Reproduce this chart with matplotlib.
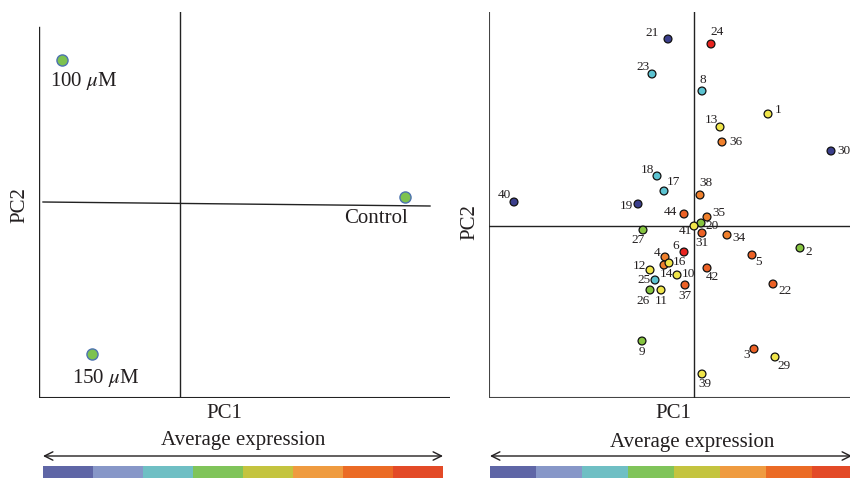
import matplotlib
matplotlib.use("Agg")
import matplotlib.pyplot as plt

plt.rcParams["font.family"] = ["Liberation Serif", "DejaVu Serif"]
plt.rcParams["mathtext.fontset"] = "stix"

TXT = "#231f20"
LINE = "#222222"

# left panel: treatment groups (PC1, PC2), label offsets in pixels
grp_names = ["100 $\\mu$M", "150 $\\mu$M", "Control"]
grp_pc1 = [-11.8, -8.8, 22.5]
grp_pc2 = [14.4, -15.0, 0.7]
grp_off = [(22, -21), (14, -24), (-29, -22)]

# right panel: genes
gene_ids = ["1", "2", "3", "4", "5", "6", "8", "9", "10", "11", "12", "13", "14",
            "16", "17", "18", "19", "20", "21", "22", "23", "24", "25", "26", "27",
            "29", "30", "31", "34", "35", "36", "37", "38", "39", "40", "41", "42", "44"]
gene_pc1 = [7.4, 10.6, 6.0, -2.9, 5.8, -1.0, 0.8, -5.2, -1.7, -3.3, -4.4, 2.6, -3.0,
            -2.5, -3.0, -3.7, -5.6, 0.7, -2.6, 7.9, -4.2, 1.7, -3.9, -4.4, -5.1,
            8.1, 13.7, 0.8, 3.3, 1.3, 2.8, -0.9, 0.6, 0.8, -18.0, 0.0, 1.3, -1.0]
gene_pc2 = [11.2, -2.2, -12.3, -3.1, -2.9, -2.6, 13.5, -11.5, -4.9, -6.4, -4.4, 9.9, -3.9,
            -3.7, 3.5, 5.0, 2.2, 0.3, 18.7, -5.8, 15.2, 18.2, -5.4, -6.4, -0.4,
            -13.1, 7.5, -0.7, -0.9, 0.9, 8.4, -5.9, 3.1, -14.8, 2.4, 0.0, -4.2, 1.2]
gene_cls = ["yellow", "green", "orange2", "orange", "orange2", "red", "cyan", "green",
            "yellow", "yellow", "yellow", "yellow", "orange", "yellow", "cyan", "cyan",
            "navy", "green", "navy", "orange2", "cyan", "red", "cyan", "green", "green",
            "yellow", "navy", "orange2", "orange", "orange", "orange", "orange2",
            "orange", "yellow", "navy", "yellow", "orange2", "orange2"]
gene_off = [(10, 4), (9, -4), (-7, -6), (-8, 4), (7, -7), (-8, 6), (1, 11), (0, -11),
            (11, 1), (0, -11), (-11, 4), (-9, 7), (2, -9), (10, 1), (9, 9), (-10, 6),
            (-12, -2), (11, -3), (-16, 6), (12, -7), (-9, 7), (6, 12), (-11, 0),
            (-7, -11), (-5, -10), (9, -9), (13, 0), (0, -10), (12, -3), (12, 4), (14, 0),
            (0, -11), (6, 12), (3, -10), (-10, 7), (-9, -5), (5, -9), (-14, 2)]
palette = {"navy": "#3b3f8c", "cyan": "#5cc3d1", "green": "#86c440", "yellow": "#f0e54a",
           "orange": "#f0802c", "orange2": "#ec6125", "red": "#e8231f"}

# expression colour scale
scale_colors = ["#5f66a6", "#8797c8", "#6fbfc4", "#80c45a",
                "#c4c43f", "#ef9b40", "#eb6b25", "#e34a27"]

W, H = 850, 478
fig = plt.figure(figsize=(W / 100, H / 100), dpi=100)


def px_box(x0, y0, x1, y1):
    return [x0 / W, 1 - y1 / H, (x1 - x0) / W, (y1 - y0) / H]


# ---- left panel
ax1 = fig.add_axes(px_box(39, 12, 450, 398))
ax1.set_xlim(-14.1, 27.0)
ax1.set_ylim(-19.4, 19.2)
ax1.axis("off")
ax1.axvline(-14.1, ymin=0, ymax=(17.7 + 19.4) / 38.6, color=LINE, lw=1.0)
ax1.axhline(-19.4, color=LINE, lw=1.5)
ax1.axvline(0, color=LINE, lw=1.0)
ax1.plot([-13.7, 25.0], [0.2, -0.2], color=LINE, lw=1.0)
ax1.plot(grp_pc1, grp_pc2, "o", ms=8, mfc="#7dc24f", mec="#4d72b0", mew=1.0,
         linestyle="none", clip_on=False)
for name, x, y, off in zip(grp_names, grp_pc1, grp_pc2, grp_off):
    ax1.annotate(name, (x, y), xytext=off, textcoords="offset pixels",
                 ha="center", va="center", fontsize=15, color=TXT)

# ---- right panel
ax2 = fig.add_axes(px_box(489, 12, 850, 398))
ax2.set_xlim(-20.5, 15.6)
ax2.set_ylim(-17.2, 21.4)
ax2.axis("off")
ax2.axvline(-20.5, color="#444444", lw=1.5)
ax2.axhline(-17.2, color="#444444", lw=1.5)
ax2.axvline(0, color=LINE, lw=1.0)
ax2.axhline(0, color=LINE, lw=1.0)
ax2.scatter(gene_pc1, gene_pc2, s=32, c=[palette[c] for c in gene_cls],
            edgecolors="#111111", linewidths=0.9, zorder=3, clip_on=False)
for gid, x, y, off in zip(gene_ids, gene_pc1, gene_pc2, gene_off):
    ax2.annotate(gid, (x, y), xytext=off, textcoords="offset pixels",
                 ha="center", va="center", fontsize=9.5, color=TXT)

# ---- axis titles
fig.text(20 / W, 1 - 205 / H, "PC2", rotation=90, ha="center", va="center",
         fontsize=15, color=TXT)
fig.text(470 / W, 1 - 222 / H, "PC2", rotation=90, ha="center", va="center",
         fontsize=15, color=TXT)
fig.text(224 / W, 1 - 414 / H, "PC1", ha="center", va="center", fontsize=15, color=TXT)
fig.text(673 / W, 1 - 414 / H, "PC1", ha="center", va="center", fontsize=15, color=TXT)
fig.text(243 / W, 1 - 440 / H, "Average expression", ha="center", va="center",
         fontsize=15, color=TXT)
fig.text(692 / W, 1 - 442 / H, "Average expression", ha="center", va="center",
         fontsize=15, color=TXT)

# ---- arrows
for x0, x1 in [(43, 443), (490, 852)]:
    fig.add_artist(matplotlib.patches.FancyArrowPatch(
        (x0 / W, 1 - 456 / H), (x1 / W, 1 - 456 / H), transform=fig.transFigure,
        arrowstyle="<->,head_length=6,head_width=3", lw=1.0, color=TXT,
        shrinkA=0, shrinkB=0))

# ---- colour scales
for x0, x1, n in [(43, 443, 8), (490, 850, 360 / 46)]:
    cax = fig.add_axes(px_box(x0, 466, x1, 478))
    cax.bar(range(len(scale_colors)), [1] * len(scale_colors), width=1.0,
            align="edge", color=scale_colors)
    cax.set_xlim(0, n)
    cax.set_ylim(0, 1)
    cax.axis("off")

fig.savefig("out.png", dpi=100)
plt.close(fig)
